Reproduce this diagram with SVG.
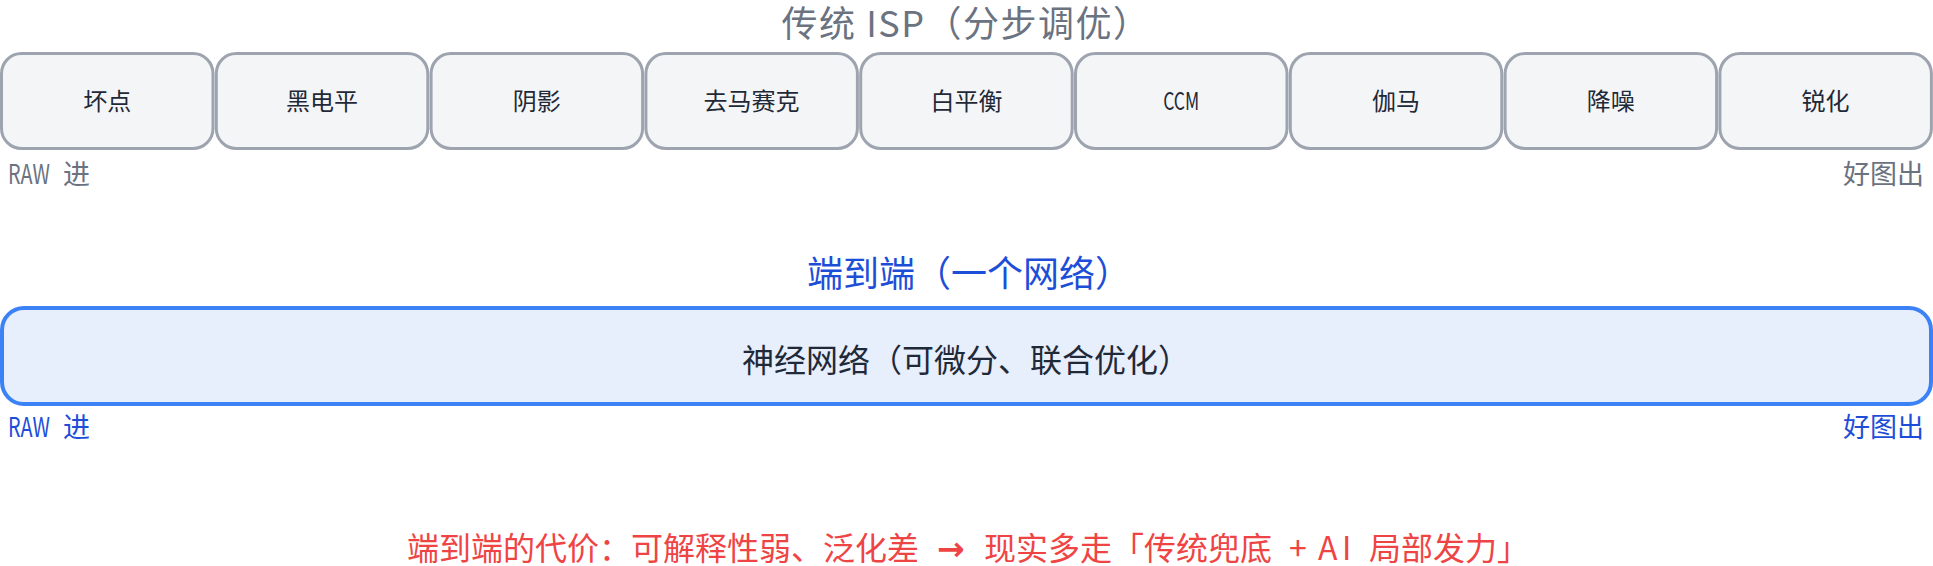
<svg xmlns="http://www.w3.org/2000/svg" width="1933" height="566" viewBox="0 0 1933 566">
  <style>
    text { font-family: "Noto Sans CJK SC", "Noto Sans", "DejaVu Sans", sans-serif; }
    .step rect { fill: #f4f5f7; stroke: #9ea4af; stroke-width: 3; }
    .step text { font-size: 24px; fill: #1f2937; text-anchor: middle; }
    .h1 { font-size: 36px; fill: #6b7280; text-anchor: middle; letter-spacing: 1.5px; }
    .h2 { font-size: 36px; fill: #1d4ed8; text-anchor: middle; }
    .io-gray { font-size: 27px; fill: #6b7280; }
    .io-blue { font-size: 27px; fill: #1d4ed8; }
    .net rect { fill: #e7eefc; stroke: #3b82f6; stroke-width: 4; }
    .net text { font-size: 32px; fill: #1f2937; text-anchor: middle; }
    .note { font-size: 32px; fill: #ef4444; }
    .arrow { font-family: "DejaVu Sans", sans-serif; font-weight: bold; font-size: 33px; }
  </style>
  <rect width="1933" height="566" fill="#ffffff"/>

  <text class="h1" x="966" y="37">传统 ISP（分步调优）</text>

  <g id="isp-steps">
    <g id="step-1" class="step"><rect x="1.5" y="53.5" width="211.5" height="95" rx="20"/><text x="107.2" y="110">坏点</text></g>
    <g id="step-2" class="step"><rect x="216.3" y="53.5" width="211.5" height="95" rx="20"/><text x="322" y="110">黑电平</text></g>
    <g id="step-3" class="step"><rect x="431.1" y="53.5" width="211.5" height="95" rx="20"/><text x="536.8" y="110">阴影</text></g>
    <g id="step-4" class="step"><rect x="645.9" y="53.5" width="211.5" height="95" rx="20"/><text x="751.6" y="110">去马赛克</text></g>
    <g id="step-5" class="step"><rect x="860.7" y="53.5" width="211.5" height="95" rx="20"/><text x="966.4" y="110">白平衡</text></g>
    <g id="step-6" class="step"><rect x="1075.5" y="53.5" width="211.5" height="95" rx="20"/><text x="1181.2" y="110" textLength="36" lengthAdjust="spacingAndGlyphs">CCM</text></g>
    <g id="step-7" class="step"><rect x="1290.3" y="53.5" width="211.5" height="95" rx="20"/><text x="1396" y="110">伽马</text></g>
    <g id="step-8" class="step"><rect x="1505.1" y="53.5" width="211.5" height="95" rx="20"/><text x="1610.8" y="110">降噪</text></g>
    <g id="step-9" class="step"><rect x="1719.9" y="53.5" width="211.5" height="95" rx="20"/><text x="1825.6" y="110">锐化</text></g>
  </g>
  <g id="connectors"></g>

  <text class="io-gray" x="8" y="184"><tspan textLength="42" lengthAdjust="spacingAndGlyphs">RAW</tspan> <tspan x="63">进</tspan></text>
  <text class="io-gray" x="1924" y="184" text-anchor="end">好图出</text>

  <text class="h2" x="969" y="287">端到端（一个网络）</text>

  <g id="network" class="net">
    <rect x="2" y="308" width="1929" height="96" rx="22"/>
    <text x="966" y="372">神经网络（可微分、联合优化）</text>
  </g>

  <text class="io-blue" x="8" y="437"><tspan textLength="42" lengthAdjust="spacingAndGlyphs">RAW</tspan> <tspan x="63">进</tspan></text>
  <text class="io-blue" x="1924" y="437" text-anchor="end">好图出</text>

  <text class="note" y="560"><tspan x="407">端到端的代价：可解释性弱、泛化差 </tspan><tspan class="arrow" x="937">→ </tspan><tspan x="984">现实多走「传统兜底 </tspan><tspan x="1289">+ </tspan><tspan x="1318 1342">AI </tspan><tspan x="1369">局部发力」</tspan></text>
</svg>
